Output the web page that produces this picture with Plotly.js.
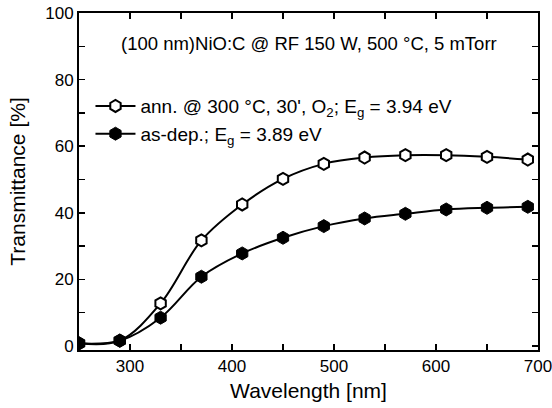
<!DOCTYPE html>
<html>
<head>
<meta charset="utf-8">
<script src="https://cdn.plot.ly/plotly-3.0.1.min.js"></script>
<style>html,body{margin:0;padding:0;background:#fff;}#chart{width:552px;height:408px;}</style>
</head>
<body>
<div id="chart"></div>
<script>
var wavelength = [250, 290, 330, 370, 410, 450, 490, 530, 570, 610, 650, 690];
var annealed = [0.8, 1.6, 12.8, 31.7, 42.5, 50.2, 54.7, 56.6, 57.3, 57.3, 56.8, 56.0];
var asDeposited = [0.8, 1.6, 8.5, 20.8, 27.8, 32.5, 36.0, 38.3, 39.7, 41.0, 41.5, 41.8];
var annLabel = "ann. @ 300 °C, 30', O<sub>2</sub>; E<sub>g</sub> = 3.94 eV";
var asDepLabel = "as-dep.; E<sub>g</sub> = 3.89 eV";
var titleText = "(100 nm)NiO:C @ RF 150 W, 500 °C, 5 mTorr";
var xTickVals = [250, 300, 350, 400, 450, 500, 550, 600, 650, 700];
var xTickText = ["", "300", "", "400", "", "500", "", "600", "", "700"];
var yTickVals = [0, 10, 20, 30, 40, 50, 60, 70, 80, 90, 100];
var yTickText = ["0", "", "20", "", "40", "", "60", "", "80", "", "100"];

var font = "Liberation Sans, Arial, sans-serif";
var traces = [
  {
    x: wavelength, y: annealed, name: annLabel, type: "scatter", mode: "lines+markers",
    line: {color: "#000", width: 2, shape: "spline"},
    marker: {symbol: "hexagon", size: 12, color: "#fff", line: {color: "#000", width: 2}}
  },
  {
    x: wavelength, y: asDeposited, name: asDepLabel, type: "scatter", mode: "lines+markers",
    line: {color: "#000", width: 2, shape: "spline"},
    marker: {symbol: "hexagon", size: 13, color: "#000", line: {color: "#000", width: 1}}
  }
];
var axisCommon = {
  showgrid: false, zeroline: false, showline: true, linecolor: "#000", linewidth: 2,
  mirror: "ticks", ticks: "inside", ticklen: 6, tickwidth: 1.5, tickcolor: "#000",
  ticklabeloverflow: "allow",
  tickfont: {family: font, size: 17, color: "#000"}
};
var layout = {
  width: 552, height: 408,
  margin: {l: 79, r: 14, t: 13, b: 58},
  paper_bgcolor: "#fff", plot_bgcolor: "#fff",
  font: {family: font, color: "#000"},
  showlegend: true,
  legend: {
    x: 0.025, y: 0.78, xanchor: "left", yanchor: "top",
    bgcolor: "rgba(0,0,0,0)", borderwidth: 0, itemwidth: 40,
    font: {family: font, size: 19, color: "#000"},
    tracegroupgap: 0
  },
  xaxis: Object.assign({}, axisCommon, {
    range: [250, 700], tickvals: xTickVals, ticktext: xTickText,
    title: {text: "Wavelength [nm]", font: {family: font, size: 21, color: "#000"}, standoff: 8}
  }),
  yaxis: Object.assign({}, axisCommon, {
    range: [-1.2, 100], tickvals: yTickVals, ticktext: yTickText,
    title: {text: "Transmittance [%]", font: {family: font, size: 21, color: "#000"}, standoff: 14}
  }),
  annotations: [{
    xref: "paper", yref: "paper", x: 0.5, y: 0.909, xanchor: "center", yanchor: "middle",
    text: titleText, showarrow: false, font: {family: font, size: 18.5, color: "#000"}
  }]
};
Plotly.newPlot("chart", traces, layout, {displayModeBar: false, staticPlot: true});
</script>
</body>
</html>
